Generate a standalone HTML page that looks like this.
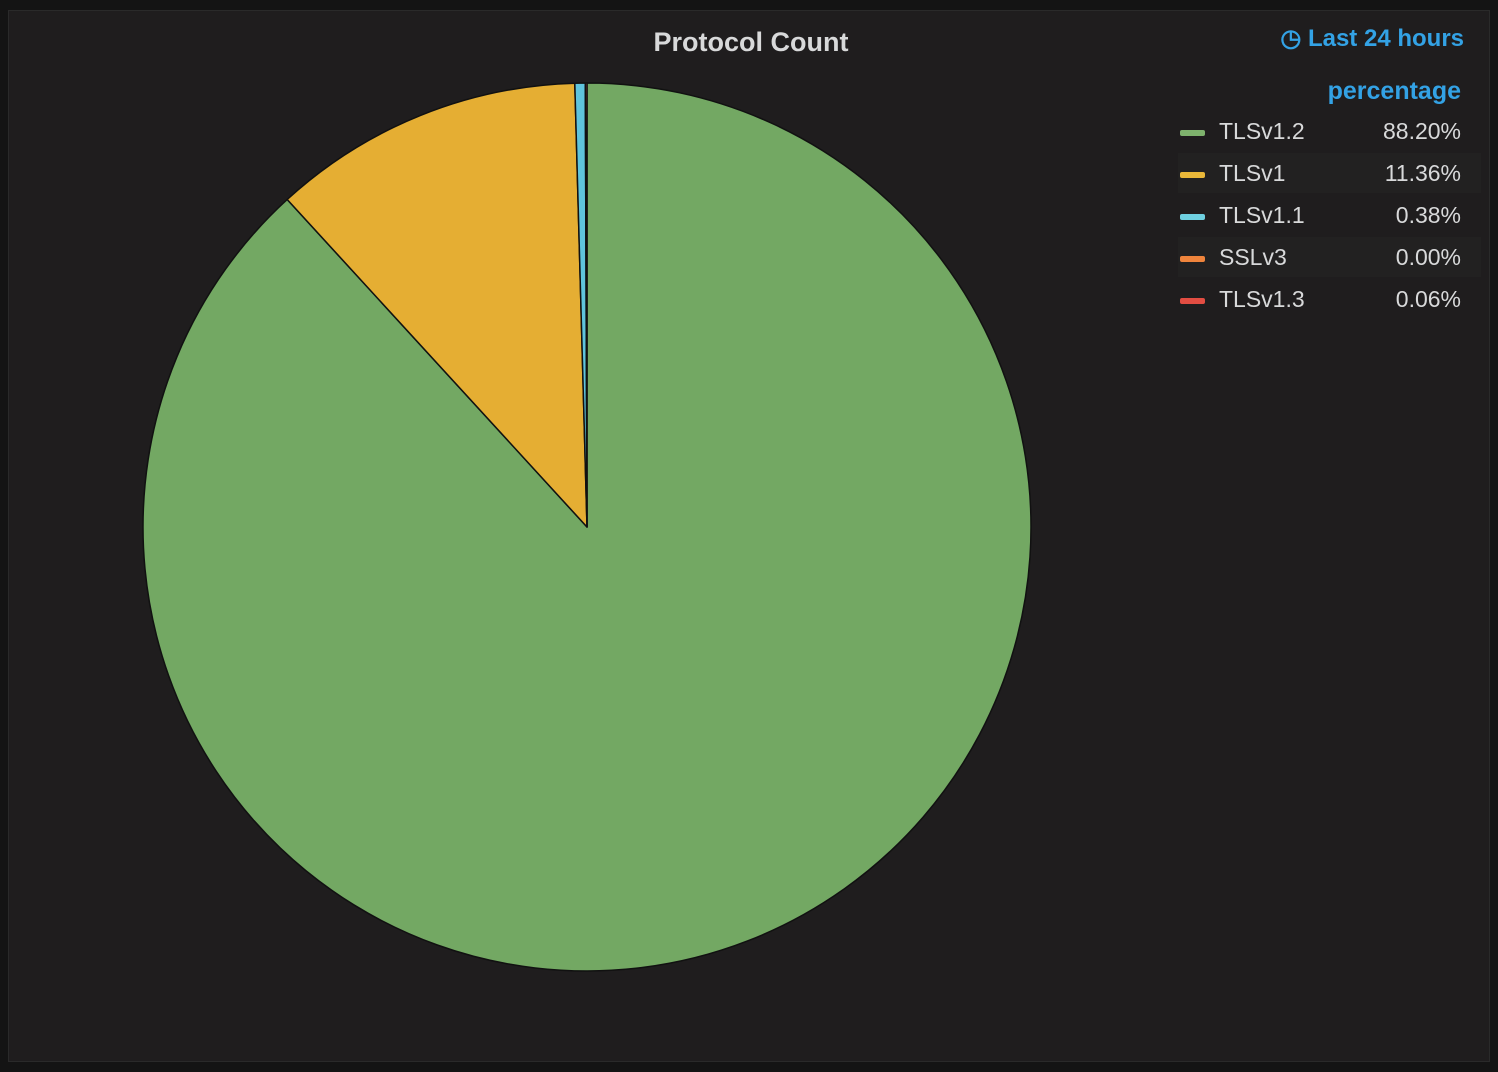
<!DOCTYPE html>
<html><head><meta charset="utf-8"><style>
html,body{margin:0;padding:0;background:#141414;width:1498px;height:1072px;overflow:hidden;font-family:"Liberation Sans",sans-serif;}
.panel{position:absolute;left:8px;top:10px;width:1480px;height:1050px;background:#1f1d1e;border:1px solid #2a2a2a;}
.title{position:absolute;left:2px;width:1498px;top:27px;text-align:center;color:#d8d9da;font-size:27px;font-weight:bold;}
.time{position:absolute;right:34px;top:24px;color:#33a2e5;font-size:24px;font-weight:bold;}
.hdr{position:absolute;right:37px;top:77px;color:#33a2e5;font-size:25px;font-weight:bold;}
.row{position:absolute;left:1178px;width:303px;height:40px;color:#d8d9da;font-size:23px;}
.row.alt{background:#222121;}
.sw{position:absolute;left:2px;top:19px;width:25px;height:6px;border-radius:2px;}
.nm{position:absolute;left:41px;top:7px;}
.v{position:absolute;right:20px;top:7px;}
</style></head><body>
<div class="panel"></div>
<div class="title">Protocol Count</div>
<div class="time">&#9719; Last 24 hours</div>
<div class="hdr">percentage</div>
<div class="row" style="top:111px"><div class="sw" style="background:#7eb26d"></div><div class="nm">TLSv1.2</div><div class="v">88.20%</div></div>
<div class="row alt" style="top:153px"><div class="sw" style="background:#eab839"></div><div class="nm">TLSv1</div><div class="v">11.36%</div></div>
<div class="row" style="top:195px"><div class="sw" style="background:#6ed0e0"></div><div class="nm">TLSv1.1</div><div class="v">0.38%</div></div>
<div class="row alt" style="top:237px"><div class="sw" style="background:#ef843c"></div><div class="nm">SSLv3</div><div class="v">0.00%</div></div>
<div class="row" style="top:279px"><div class="sw" style="background:#e24d42"></div><div class="nm">TLSv1.3</div><div class="v">0.06%</div></div>
<svg style="position:absolute;left:0;top:0" width="1498" height="1072">
<g stroke="#111" stroke-width="1.5" stroke-linejoin="round">
<path d="M587,527 L587,83 A444,444 0 1 1 287.2,199.5 Z" fill="#73a863"/>
<path d="M587,527 L287.2,199.5 A444,444 0 0 1 574.8,83.2 Z" fill="#e5ae33"/>
<path d="M587,527 L574.8,83.2 A444,444 0 0 1 585.3,83 Z" fill="#5fc4dc"/>
<path d="M587,527 L585.3,83 A444,444 0 0 1 587,83 Z" fill="#e24d42"/>
</g>
</svg>
</body></html>
